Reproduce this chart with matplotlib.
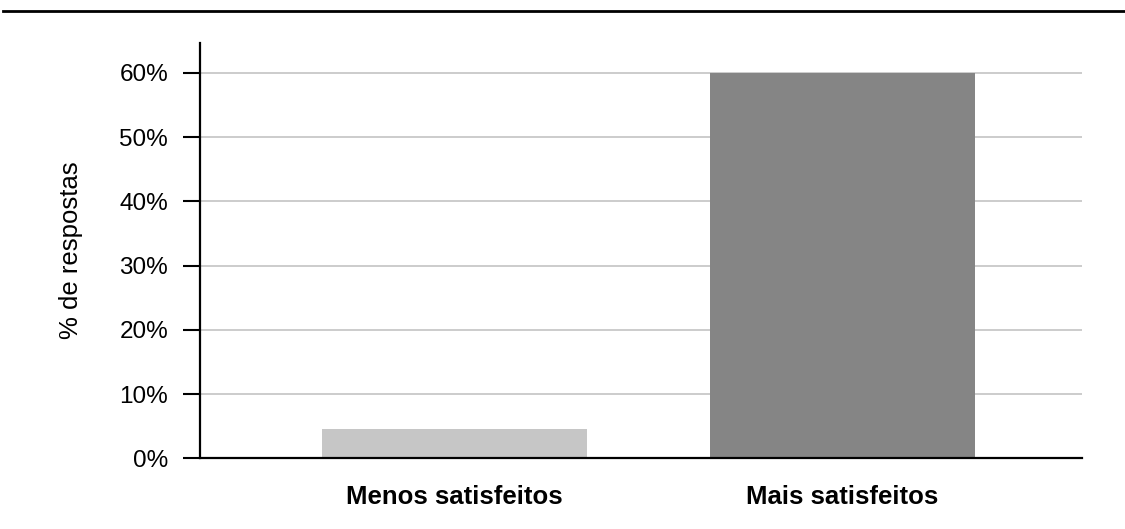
import numpy as np
import matplotlib.pyplot as plt
from matplotlib.lines import Line2D

categorias = ['Menos satisfeitos', 'Mais satisfeitos']
valores = [4.5, 60]
cores = ['#c6c6c6', '#858585']
ticks_y = [0, 10, 20, 30, 40, 50, 60]

plt.rcParams['font.family'] = ['Liberation Sans', 'DejaVu Sans']

fig = plt.figure(figsize=(11.25, 5.29), dpi=100)
ax = fig.add_axes([200/1125, 1-458.3/529, 882/1125, (458.3-42.7)/529])

x = np.arange(len(categorias))
ax.bar(x, valores, width=0.683, color=cores, zorder=2)

ax.set_xlim(-0.655, 1.617)
ax.set_ylim(0, 64.7)
ax.set_yticks(ticks_y)
ax.set_yticklabels([f'{t}%' for t in ticks_y], fontsize=17.5)
ax.yaxis.grid(True, color='#c8c8c8', linewidth=1.3, zorder=0)
ax.set_axisbelow(True)

ax.set_xticks(x)
ax.set_xticklabels(categorias, fontsize=18.5, fontweight='bold')
ax.tick_params(axis='x', length=0, pad=19)
ax.tick_params(axis='y', length=12, width=1.5, pad=11, direction='out')

for lado in ['top', 'right']:
    ax.spines[lado].set_visible(False)
ax.spines['left'].set_linewidth(1.6)
ax.spines['bottom'].set_linewidth(1.6)

ax.set_ylabel('% de respostas', fontsize=18.5, labelpad=26)

# linha no topo da figura
fig.add_artist(Line2D([3/1125, 1.0], [1-11/529, 1-11/529], color='black', linewidth=2, transform=fig.transFigure))

fig.savefig('out.png', dpi=100)
